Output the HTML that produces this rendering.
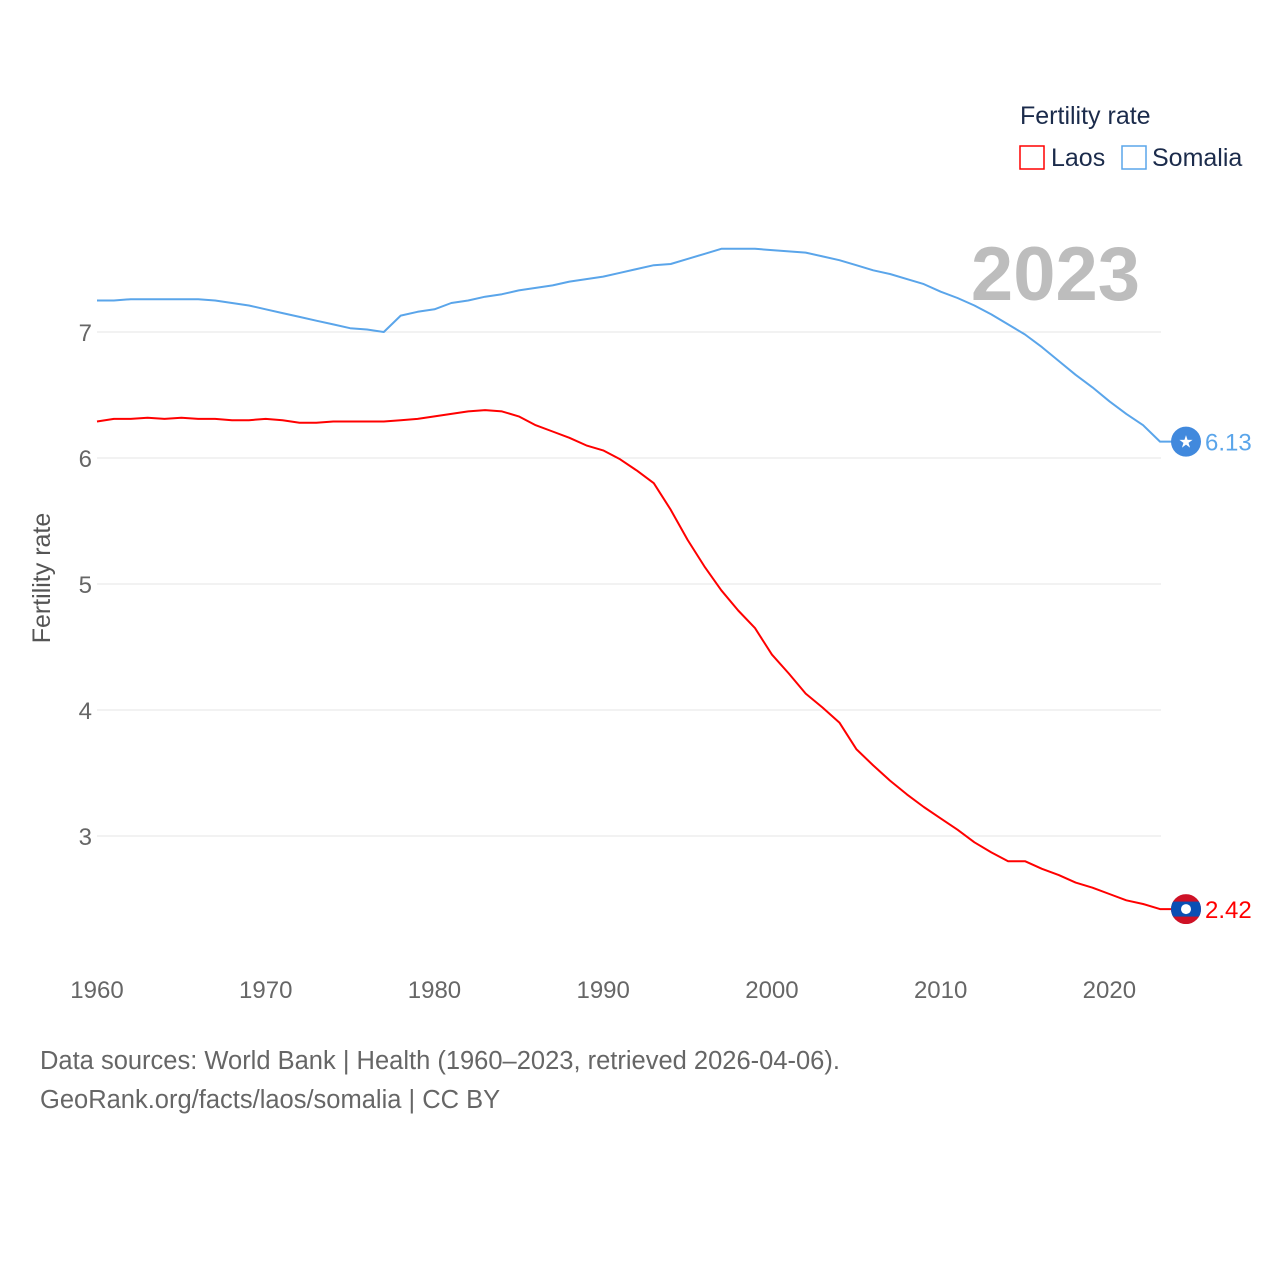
<!DOCTYPE html>
<html><head><meta charset="utf-8"><style>
body{margin:0;background:#fff;font-family:"Liberation Sans",sans-serif;}
svg text{font-family:"Liberation Sans",sans-serif;}
</style></head><body>
<svg width="1280" height="1280" viewBox="0 0 1280 1280">
<rect width="1280" height="1280" fill="#fff"/>
<g id="grid"></g>
<g id="yticks"></g>
<g id="xticks"></g>
<text x="1140" y="300" text-anchor="end" font-size="76" font-weight="bold" fill="#bdbdbd">2023</text>
<text transform="translate(50,578) rotate(-90)" text-anchor="middle" font-size="25" fill="#555">Fertility rate</text>
<g id="series"></g>
<text x="1020" y="124" font-size="25" fill="#1b2b4b">Fertility rate</text>
<g><rect x="1020" y="146" width="24" height="23" fill="none" stroke="#f00" stroke-width="1.5"/><text x="1051" y="166" font-size="25" fill="#1b2b4b">Laos</text></g>
<g><rect x="1122" y="146" width="24" height="23" fill="none" stroke="#5aa5ea" stroke-width="1.5"/><text x="1152" y="166" font-size="25" fill="#1b2b4b">Somalia</text></g>
<text x="40" y="1069" font-size="25.5" fill="#666">Data sources: World Bank | Health (1960–2023, retrieved 2026-04-06).</text>
<text x="40" y="1108" font-size="25.5" fill="#666">GeoRank.org/facts/laos/somalia | CC BY</text>
</svg>
<script>
const years=[];for(let y=1960;y<=2023;y++)years.push(y);
const somalia=[7.25,7.25,7.26,7.26,7.26,7.26,7.26,7.25,7.23,7.21,7.18,7.15,7.12,7.09,7.06,7.03,7.02,7.00,7.13,7.16,7.18,7.23,7.25,7.28,7.30,7.33,7.35,7.37,7.40,7.42,7.44,7.47,7.50,7.53,7.54,7.58,7.62,7.66,7.66,7.66,7.65,7.64,7.63,7.60,7.57,7.53,7.49,7.46,7.42,7.38,7.32,7.27,7.21,7.14,7.06,6.98,6.88,6.77,6.66,6.56,6.45,6.35,6.26,6.13];
const laos=[6.29,6.31,6.31,6.32,6.31,6.32,6.31,6.31,6.30,6.30,6.31,6.30,6.28,6.28,6.29,6.29,6.29,6.29,6.30,6.31,6.33,6.35,6.37,6.38,6.37,6.33,6.26,6.21,6.16,6.10,6.06,5.99,5.90,5.80,5.59,5.35,5.14,4.95,4.79,4.65,4.44,4.29,4.13,4.02,3.90,3.69,3.56,3.44,3.33,3.23,3.14,3.05,2.95,2.87,2.80,2.80,2.74,2.69,2.63,2.59,2.54,2.49,2.46,2.42];
const yTicks=[3,4,5,6,7];
const xTicks=[1960,1970,1980,1990,2000,2010,2020];
const NS="http://www.w3.org/2000/svg";
const X=y=>97+(y-1960)*(1160-97)/63;
const Y=v=>332-(v-7)*126;
function mk(t,a,p){const e=document.createElementNS(NS,t);for(const k in a)e.setAttribute(k,a[k]);p.appendChild(e);return e;}
const grid=document.getElementById('grid'),yt=document.getElementById('yticks'),xt=document.getElementById('xticks'),ser=document.getElementById('series');
yTicks.forEach(v=>{
 const l=mk('line',{x1:97,x2:1161,y1:Y(v),y2:Y(v),stroke:'#e6e6e6','stroke-width':1},grid);
 
 
 const t=mk('text',{x:92,y:Y(v)+9,'text-anchor':'end','font-size':24,fill:'#666'},yt);t.textContent=v;
 
 
});
xTicks.forEach(v=>{
 const t=mk('text',{x:X(v),y:998,'text-anchor':'middle','font-size':24,fill:'#666'},xt);t.textContent=v;
 
 
});
function line(vals,color,name){
 let d=vals.map((v,i)=>(i?'L':'M')+X(years[i]).toFixed(1)+','+Y(v).toFixed(1)).join('');
 const last=vals[vals.length-1];
 d+='L1186,'+Y(last).toFixed(1);
 const p=mk('path',{d:d,fill:'none',stroke:color,'stroke-width':2,'stroke-linejoin':'round'},ser);
 
 
 const t=mk('text',{x:1205,y:Y(last)+9,'font-size':24,fill:color},ser);t.textContent=last.toFixed(2);
 
 
 return Y(last);
}
const ys=line(somalia,'#5aa5ea','somalia');
const yl=line(laos,'#f00','laos');
const gs=mk('g',{},ser);


mk('circle',{cx:1186,cy:ys,r:15,fill:'#4189dd'},gs);
const st=mk('text',{x:1186,y:ys+6,'text-anchor':'middle','font-size':17,fill:'#fff'},gs);st.textContent='★';
const gl=mk('g',{},ser);


mk('clipPath',{id:'cl'},gl);
mk('circle',{cx:1186,cy:yl,r:15},document.getElementById('cl'));
mk('rect',{x:1171,y:yl-15,width:30,height:30,fill:'#ce1126','clip-path':'url(#cl)'},gl);
mk('rect',{x:1171,y:yl-7.5,width:30,height:15,fill:'#0a4fb4','clip-path':'url(#cl)'},gl);
mk('circle',{cx:1186,cy:yl,r:5,fill:'#fff'},gl);
</script>
</body></html>
